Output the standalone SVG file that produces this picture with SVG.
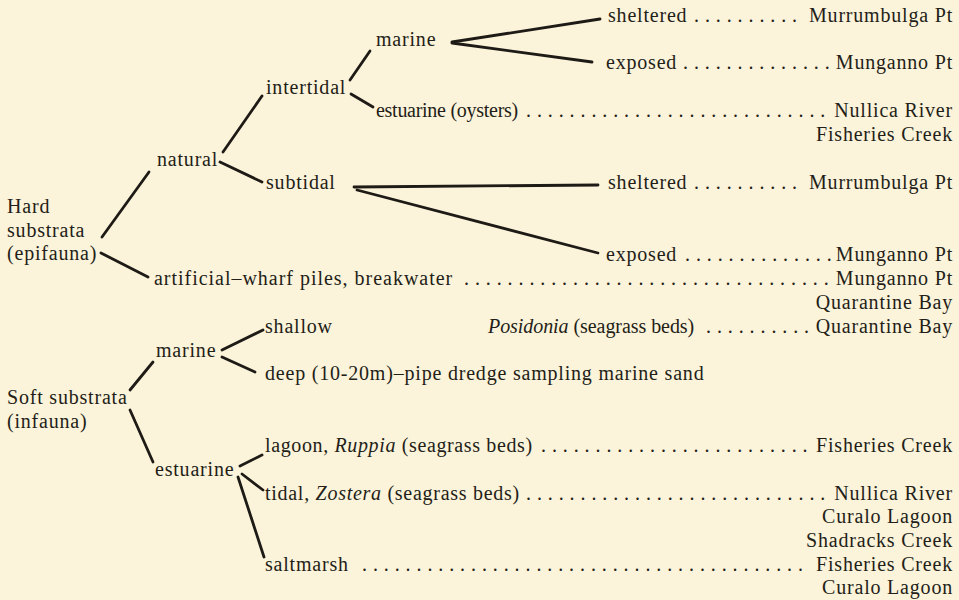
<svg xmlns="http://www.w3.org/2000/svg" width="959" height="600" viewBox="0 0 959 600">
<style>
text{font-family:"Liberation Serif","Times New Roman",serif;font-size:20px;fill:#231e18;letter-spacing:0.8px}
.r{text-anchor:end}
.d{letter-spacing:0.45px}
.it{font-style:italic}
#connectors line{stroke:#1e1a15;stroke-width:2.8;stroke-linecap:round}
</style>
<rect width="959" height="600" fill="#fbf3da"/>
<g id="connectors">
<line x1="102" y1="237" x2="149" y2="172"/>
<line x1="101" y1="253" x2="148" y2="277"/>
<line x1="223" y1="152" x2="262" y2="96"/>
<line x1="220" y1="162" x2="262" y2="182"/>
<line x1="350" y1="80" x2="370" y2="51"/>
<line x1="351" y1="94" x2="373" y2="107"/>
<line x1="452" y1="42" x2="600" y2="19"/>
<line x1="452" y1="43" x2="592" y2="62"/>
<line x1="354" y1="187" x2="598" y2="185"/>
<line x1="357" y1="190" x2="598" y2="253"/>
<line x1="130" y1="390" x2="153" y2="362"/>
<line x1="130" y1="410" x2="153" y2="462"/>
<line x1="222" y1="350" x2="263" y2="330"/>
<line x1="222" y1="357" x2="255" y2="372"/>
<line x1="240" y1="466" x2="262" y2="455"/>
<line x1="242" y1="474" x2="263" y2="490"/>
<line x1="238" y1="477" x2="264" y2="557"/>
</g>
<g id="hard"><text x="7" y="213">Hard</text><text x="7" y="237">substrata</text><text x="7" y="260">(epifauna)</text></g>
<g id="natural"><text x="157" y="166">natural</text></g>
<g id="intertidal"><text x="266" y="94">intertidal</text></g>
<g id="marine-int"><text x="376" y="46">marine</text></g>
<g id="sheltered-1"><text x="608" y="22">sheltered</text><text class="d" x="694" y="22">. . . . . . . . . .</text><text class="r" x="953" y="22">Murrumbulga Pt</text></g>
<g id="exposed-1"><text x="606" y="69">exposed</text><text class="d" x="683" y="69">. . . . . . . . . . . . . .</text><text class="r" x="953" y="69">Munganno Pt</text></g>
<g id="estuarine-oysters"><text x="376" y="117" textLength="143" lengthAdjust="spacing">estuarine (oysters)</text><text class="d" x="526" y="117">. . . . . . . . . . . . . . . . . . . . . . . . . . . .</text><text class="r" x="953" y="117">Nullica River</text><text class="r" x="953" y="141">Fisheries Creek</text></g>
<g id="subtidal"><text x="266" y="189">subtidal</text></g>
<g id="sheltered-2"><text x="608" y="189">sheltered</text><text class="d" x="694" y="189">. . . . . . . . . .</text><text class="r" x="953" y="189">Murrumbulga Pt</text></g>
<g id="exposed-2"><text x="606" y="261">exposed</text><text class="d" x="685" y="261">. . . . . . . . . . . . . .</text><text class="r" x="953" y="261">Munganno Pt</text></g>
<g id="artificial"><text x="154" y="285" textLength="299" lengthAdjust="spacing">artificial–wharf piles, breakwater</text><text class="d" x="464" y="285">. . . . . . . . . . . . . . . . . . . . . . . . . . . . . . . . . .</text><text class="r" x="953" y="285">Munganno Pt</text><text class="r" x="953" y="309">Quarantine Bay</text></g>
<g id="soft"><text x="7" y="404">Soft substrata</text><text x="7" y="428">(infauna)</text></g>
<g id="marine-soft"><text x="156" y="357">marine</text></g>
<g id="shallow"><text x="265" y="333">shallow</text><text x="488" y="333" textLength="207" lengthAdjust="spacing"><tspan class="it">Posidonia</tspan> (seagrass beds)</text><text class="d" x="706" y="333">. . . . . . . . . .</text><text class="r" x="953" y="333">Quarantine Bay</text></g>
<g id="deep"><text x="265" y="380">deep (10-20m)–pipe dredge sampling marine sand</text></g>
<g id="estuarine"><text x="155" y="476">estuarine</text></g>
<g id="lagoon"><text x="265" y="452" textLength="268" lengthAdjust="spacing">lagoon, <tspan class="it">Ruppia</tspan> (seagrass beds)</text><text class="d" x="541" y="452">. . . . . . . . . . . . . . . . . . . . . . . . .</text><text class="r" x="953" y="452">Fisheries Creek</text></g>
<g id="tidal"><text x="265" y="500" textLength="255" lengthAdjust="spacing">tidal, <tspan class="it">Zostera</tspan> (seagrass beds)</text><text class="d" x="526" y="500">. . . . . . . . . . . . . . . . . . . . . . . . . . . .</text><text class="r" x="953" y="500">Nullica River</text><text class="r" x="953" y="523">Curalo Lagoon</text><text class="r" x="953" y="547">Shadracks Creek</text></g>
<g id="saltmarsh"><text x="265" y="571">saltmarsh</text><text class="d" x="362" y="571">. . . . . . . . . . . . . . . . . . . . . . . . . . . . . . . . . . . . . . . . .</text><text class="r" x="953" y="571">Fisheries Creek</text><text class="r" x="953" y="594">Curalo Lagoon</text></g>
</svg>
